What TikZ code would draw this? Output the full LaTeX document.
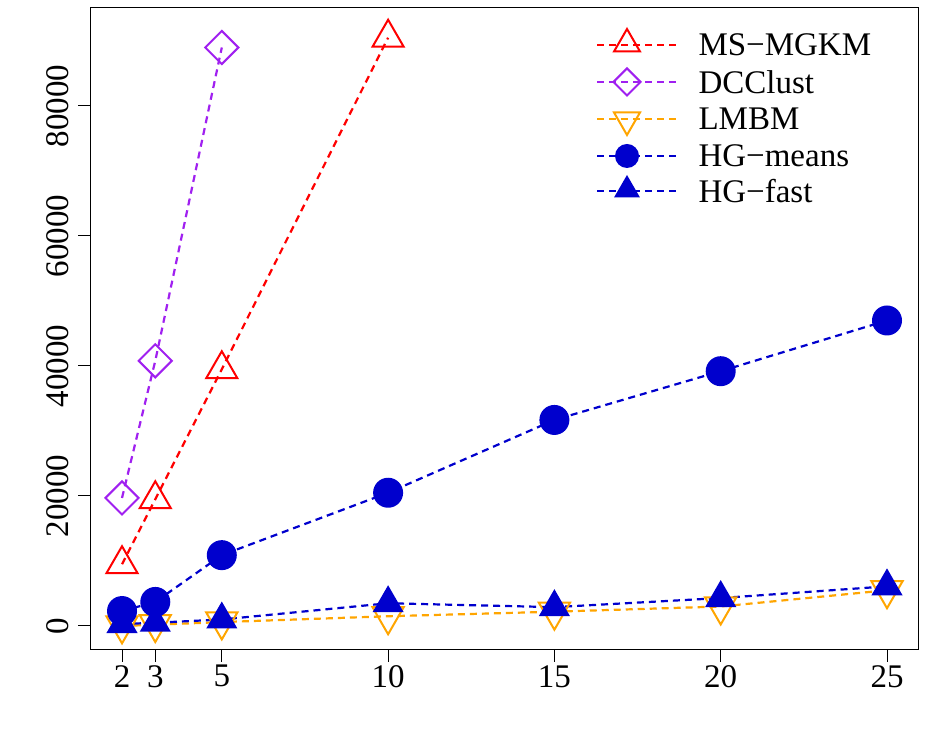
\documentclass[tikz,border=0pt]{standalone}
\usepackage{fontspec}
\setmainfont{Liberation Serif}
\usetikzlibrary{shapes.geometric,calc}
\definecolor{msc}{RGB}{255,0,0}
\definecolor{dcc}{RGB}{160,32,240}
\definecolor{lmc}{RGB}{255,165,0}
\definecolor{hgc}{RGB}{0,0,205}
\tikzset{
  ln/.style={line width=2.2pt,dash pattern=on 7pt off 5pt},
  tri/.style={regular polygon,regular polygon sides=3,minimum size=36pt,inner sep=0pt,line width=2pt},
  itri/.style={tri,shape border rotate=180},
  dia/.style={diamond,minimum size=34pt,inner sep=0pt,line width=2pt},
  dot/.style={circle,minimum size=30pt,inner sep=0pt},
  ltri/.style={tri,minimum size=30pt},
  litri/.style={itri,minimum size=30pt},
  ldia/.style={dia,minimum size=28pt},
  ldot/.style={dot,minimum size=24pt},
  lab/.style={font=\fontsize{33}{36}\selectfont}
}
\begin{document}
\begin{tikzpicture}[x=1pt,y=1pt]
\useasboundingbox (0,0) rectangle (927,742);
\draw[line width=1pt] (90,92) rectangle (918,734);
\begin{scope}[shift={(55.5pt,116pt)},x=33.26pt,y=6.5pt]
\foreach \t in {2,3,5,10,15,20,25}{
  \draw[line width=1pt] (\t,-3.69) -- ++(0,-12pt);
  \node[lab,anchor=north] at (\t,-5.5) {\t};}
\draw[line width=1pt] (2,-3.69) -- (25,-3.69);
\foreach \v/\s in {0/0,20/20000,40/40000,60/60000,80/80000}{
  \draw[line width=1pt] (1.038,\v) -- ++(-12pt,0);
  \node[lab,rotate=90,anchor=south] at ($(1.038,\v)+(-18pt,0)$) {\s};}
\draw[ln,msc] (2,9.5)--(3,19.5)--(5,39.5)--(10,90.5);
\draw[ln,dcc] (2,19.7)--(3,40.8)--(5,89);
\draw[ln,lmc] (2,0)--(3,0.2)--(5,0.6)--(10,1.5)--(15,2.2)--(20,3)--(25,5.5);
\draw[ln,hgc] (2,2.3)--(3,3.7)--(5,10.9)--(10,20.5)--(15,31.7)--(20,39.2)--(25,47);
\draw[ln,hgc] (2,0.3)--(3,0.5)--(5,1)--(10,3.5)--(15,2.9)--(20,4.3)--(25,6.1);
\foreach \a/\b in {2/9.5,3/19.5,5/39.5,10/90.5} \node[tri,draw=msc] at (\a,\b) {};
\foreach \a/\b in {2/19.7,3/40.8,5/89} \node[dia,draw=dcc] at (\a,\b) {};
\foreach \a/\b in {2/0.1,3/0.3,5/0.7,10/1.5,15/2.2,20/3.0,25/5.5} \node[itri,draw=lmc] at (\a,\b) {};
\foreach \a/\b in {2/2.3,3/3.7,5/10.9,10/20.5,15/31.7,20/39.2,25/47} \node[dot,fill=hgc] at (\a,\b) {};
\foreach \a/\b in {2/0.3,3/0.5,5/1,10/3.5,15/2.9,20/4.3,25/6.1} \node[tri,fill=hgc] at (\a,\b) {};
\end{scope}
\foreach \y/\c/\t in {697/msc/MS−MGKM,660/dcc/DCClust,623/lmc/LMBM,586/hgc/HG−means,551/hgc/HG−fast}{
  \draw[ln,\c] (597,\y)--(680,\y);
  \node[lab,anchor=west] at (695,\y) {\t};}
\node[ltri,draw=msc] at (627,698) {};
\node[ldia,draw=dcc] at (627,660) {};
\node[litri,draw=lmc] at (627,622) {};
\node[ldot,fill=hgc] at (627,586) {};
\node[ltri,fill=hgc] at (627,552) {};
\end{tikzpicture}
\end{document}
